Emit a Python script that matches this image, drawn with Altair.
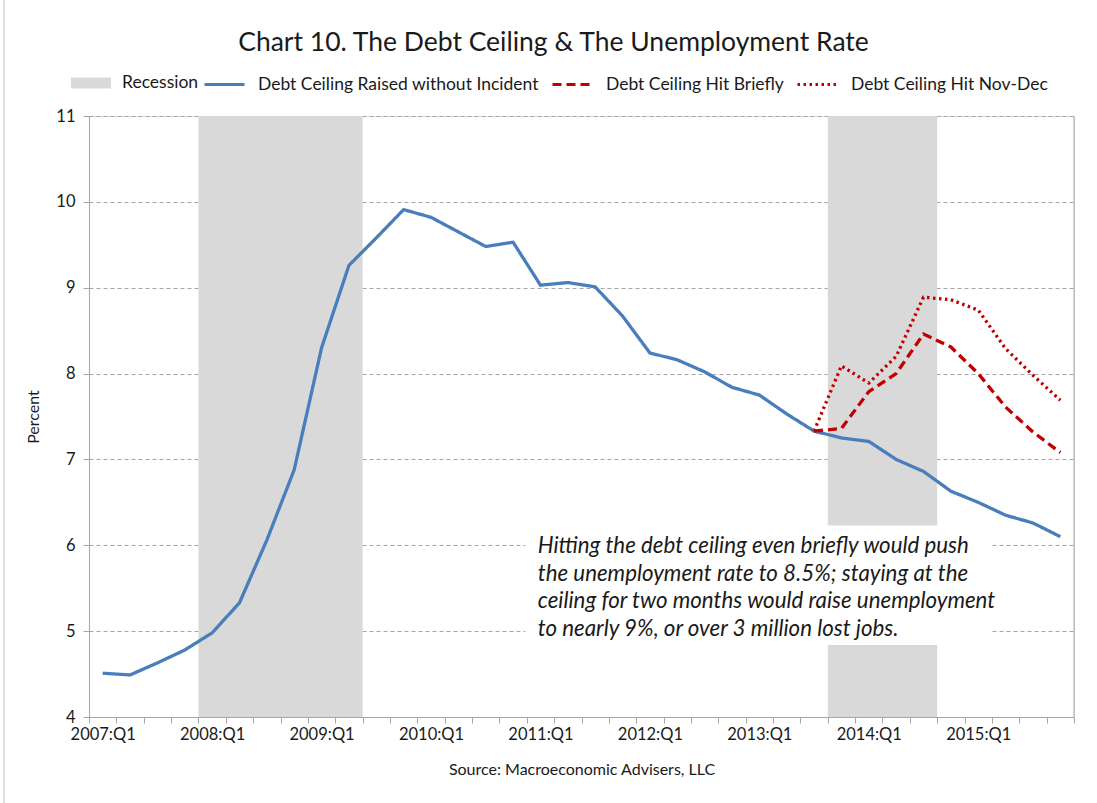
import altair as alt
import pandas as pd

# ---------------- data ----------------
quarters = [f"{y}:Q{q}" for y in range(2007, 2016) for q in range(1, 5)]

base_rate = [4.51, 4.49, 4.63, 4.78, 4.98, 5.33, 6.06, 6.88, 8.30, 9.26,
             9.58, 9.91, 9.82, 9.65, 9.48, 9.53, 9.03, 9.06, 9.01, 8.67,
             8.24, 8.16, 8.02, 7.84, 7.75, 7.53, 7.33, 7.25, 7.21, 7.00,
             6.86, 6.63, 6.50, 6.35, 6.26, 6.10]
scenario_start = "2013:Q3"
brief_rate = [7.33, 7.36, 7.79, 8.00, 8.46, 8.31, 8.00, 7.61, 7.32, 7.08]
novdec_rate = [7.33, 8.09, 7.89, 8.20, 8.89, 8.86, 8.74, 8.29, 7.98, 7.69]

recession_start = ["2008:Q1", "2013:Q4"]
recession_end = ["2009:Q2", "2014:Q3"]

series_names = ["Debt Ceiling Raised without Incident",
                "Debt Ceiling Hit Briefly",
                "Debt Ceiling Hit Nov-Dec"]
series_colors = ["#4a7ebb", "#c00000", "#c00000"]
series_dash = [[1, 0], [9, 5], [2.5, 3.5]]

note_lines = ["Hitting the debt ceiling even briefly would push",
              "the unemployment rate to 8.5%; staying at the",
              "ceiling for two months would raise unemployment",
              "to nearly 9%, or over 3 million lost jobs."]
# annotation box, in axis units (quarter index, percent)
note_box_x = [15.95, 32.95]
note_box_y = [4.84, 6.23]
note_text_pos = [16.4, 5.91]

title_text = "Chart 10.  The Debt Ceiling & The Unemployment Rate"
source_text = "Source:  Macroeconomic  Advisers, LLC"

# ---------------- tables ----------------
rows = []
for i, v in enumerate(base_rate):
    rows.append({"series": series_names[0], "pos": i + 0.5, "value": v})
s0 = quarters.index(scenario_start)
for j, v in enumerate(brief_rate):
    rows.append({"series": series_names[1], "pos": s0 + j + 0.5, "value": v})
for j, v in enumerate(novdec_rate):
    rows.append({"series": series_names[2], "pos": s0 + j + 0.5, "value": v})
lines_df = pd.DataFrame(rows)

rec_df = pd.DataFrame({
    "kind": ["Recession"] * len(recession_start),
    "start": [quarters.index(s) for s in recession_start],
    "end": [quarters.index(e) + 1 for e in recession_end],
    "lo": [4] * len(recession_start),
    "hi": [11] * len(recession_start),
})

box_df = pd.DataFrame({"x": [note_box_x[0]], "x2": [note_box_x[1]],
                       "y": [note_box_y[0]], "y2": [note_box_y[1]]})
edge_df = pd.DataFrame({"x": [len(quarters)], "y": [4], "y2": [11]})
text_df = pd.DataFrame({"x": [note_text_pos[0]], "y": [note_text_pos[1]],
                        "t": [note_lines]})

# ---------------- layout ----------------
W, H = 985, 601
PAD = {"left": 89, "top": 116, "right": 23, "bottom": 86}
FONT = "Lato"
n = len(quarters)
AX = "#a6a6a6"
TXT = "#1a1a1a"

label_arr = "[" + ",".join(f"'{q}'" for q in quarters) + "]"
tick_vals = [k / 2 for k in range(2 * n + 1)]
xscale = alt.Scale(domain=[0, n], nice=False, zero=False)
yscale = alt.Scale(domain=[4, 11], nice=False, zero=False)
xaxis = alt.Axis(values=tick_vals,
                 labelExpr=f"(datum.value % 1 == 0.5) && (floor(datum.value) % 4 == 0) ? {label_arr}[floor(datum.value)] : ''",
                 tickOpacity={"condition": {"test": "datum.value % 1 != 0", "value": 0}, "value": 1},
                 labelPadding=3, labelFontSize=16.5, labelFont=FONT,
                 labelColor=TXT, labelOverlap=False, labelFlush=False, labelBound=False,
                 grid=False, domainColor=AX, tickColor=AX, tickSize=6,
                 title=source_text, titleFont=FONT, titleFontSize=16,
                 titleFontWeight="normal", titleColor=TXT, titlePadding=19)
yaxis = alt.Axis(values=list(range(4, 12)), grid=True, gridDash=[4, 3], gridColor=AX,
                 domainColor=AX, tickColor=AX, tickSize=6, labelFontSize=16.5,
                 labelFont=FONT, labelColor=TXT, labelPadding=8,
                 title="Percent", titleFont=FONT, titleFontSize=16,
                 titleFontWeight="normal", titleColor=TXT, titlePadding=14)

X = lambda f: alt.X(f, type="quantitative", scale=xscale, axis=xaxis)
Y = lambda f: alt.Y(f, type="quantitative", scale=yscale, axis=yaxis)

rec = alt.Chart(rec_df).mark_rect().encode(
    x=X("start"), x2="end", y=Y("lo"), y2="hi",
    fill=alt.Fill("kind:N", scale=alt.Scale(domain=["Recession"], range=["#d9d9d9"]),
                  legend=alt.Legend(orient="none", legendX=-18, legendY=-53,
                                    direction="horizontal", title=None,
                                    symbolType="M-1,-0.28H1V0.28H-1Z", symbolSize=1600,
                                    symbolStrokeWidth=0, labelFontSize=17.5, labelFont=FONT,
                                    labelColor=TXT, labelOffset=11, labelLimit=400)),
)

box = alt.Chart(box_df).mark_rect(color="white").encode(
    x=X("x"), x2="x2", y=Y("y"), y2="y2",
)

right_edge = alt.Chart(edge_df).mark_rule(color=AX, strokeWidth=1).encode(
    x=X("x"), y=Y("y"), y2="y2",
)

outer_edge = alt.Chart(edge_df).mark_rule(color="#bfbfbf", strokeWidth=1).encode(
    x=alt.value(-85), y=alt.value(-PAD["top"]), y2=alt.value(H + PAD["bottom"]),
)

line_legend = alt.Legend(orient="none", legendX=114, legendY=-53, direction="horizontal",
                         title=None, symbolType="stroke", symbolSize=1600,
                         symbolStrokeWidth=3, labelFontSize=17.5, labelFont=FONT,
                         labelColor=TXT, labelOffset=12, columnPadding=7, labelLimit=400)
lines = alt.Chart(lines_df).mark_line(strokeWidth=3.3, strokeCap="butt").encode(
    x=X("pos"), y=Y("value"),
    stroke=alt.Stroke("series:N", scale=alt.Scale(domain=series_names, range=series_colors),
                      legend=line_legend),
    strokeDash=alt.StrokeDash("series:N", scale=alt.Scale(domain=series_names, range=series_dash),
                              legend=line_legend),
)

note = alt.Chart(text_df).mark_text(align="left", baseline="alphabetic", font=FONT,
                                    fontSize=22.3, fontStyle="italic", lineHeight=27.5,
                                    color=TXT).encode(
    x=X("x"), y=Y("y"), text="t",
)

chart = alt.layer(rec, box, right_edge, outer_edge, lines, note).properties(
    width=W, height=H,
    title=alt.TitleParams(title_text, font=FONT, fontSize=26.5, fontWeight="normal",
                          color=TXT, anchor="middle", dx=-28, offset=-57),
    autosize=alt.AutoSizeParams(type="none"),
    padding=PAD,
).configure_view(stroke=None).configure(background="white")

chart.save("out.html", embed_options={"renderer": "svg", "actions": False})
